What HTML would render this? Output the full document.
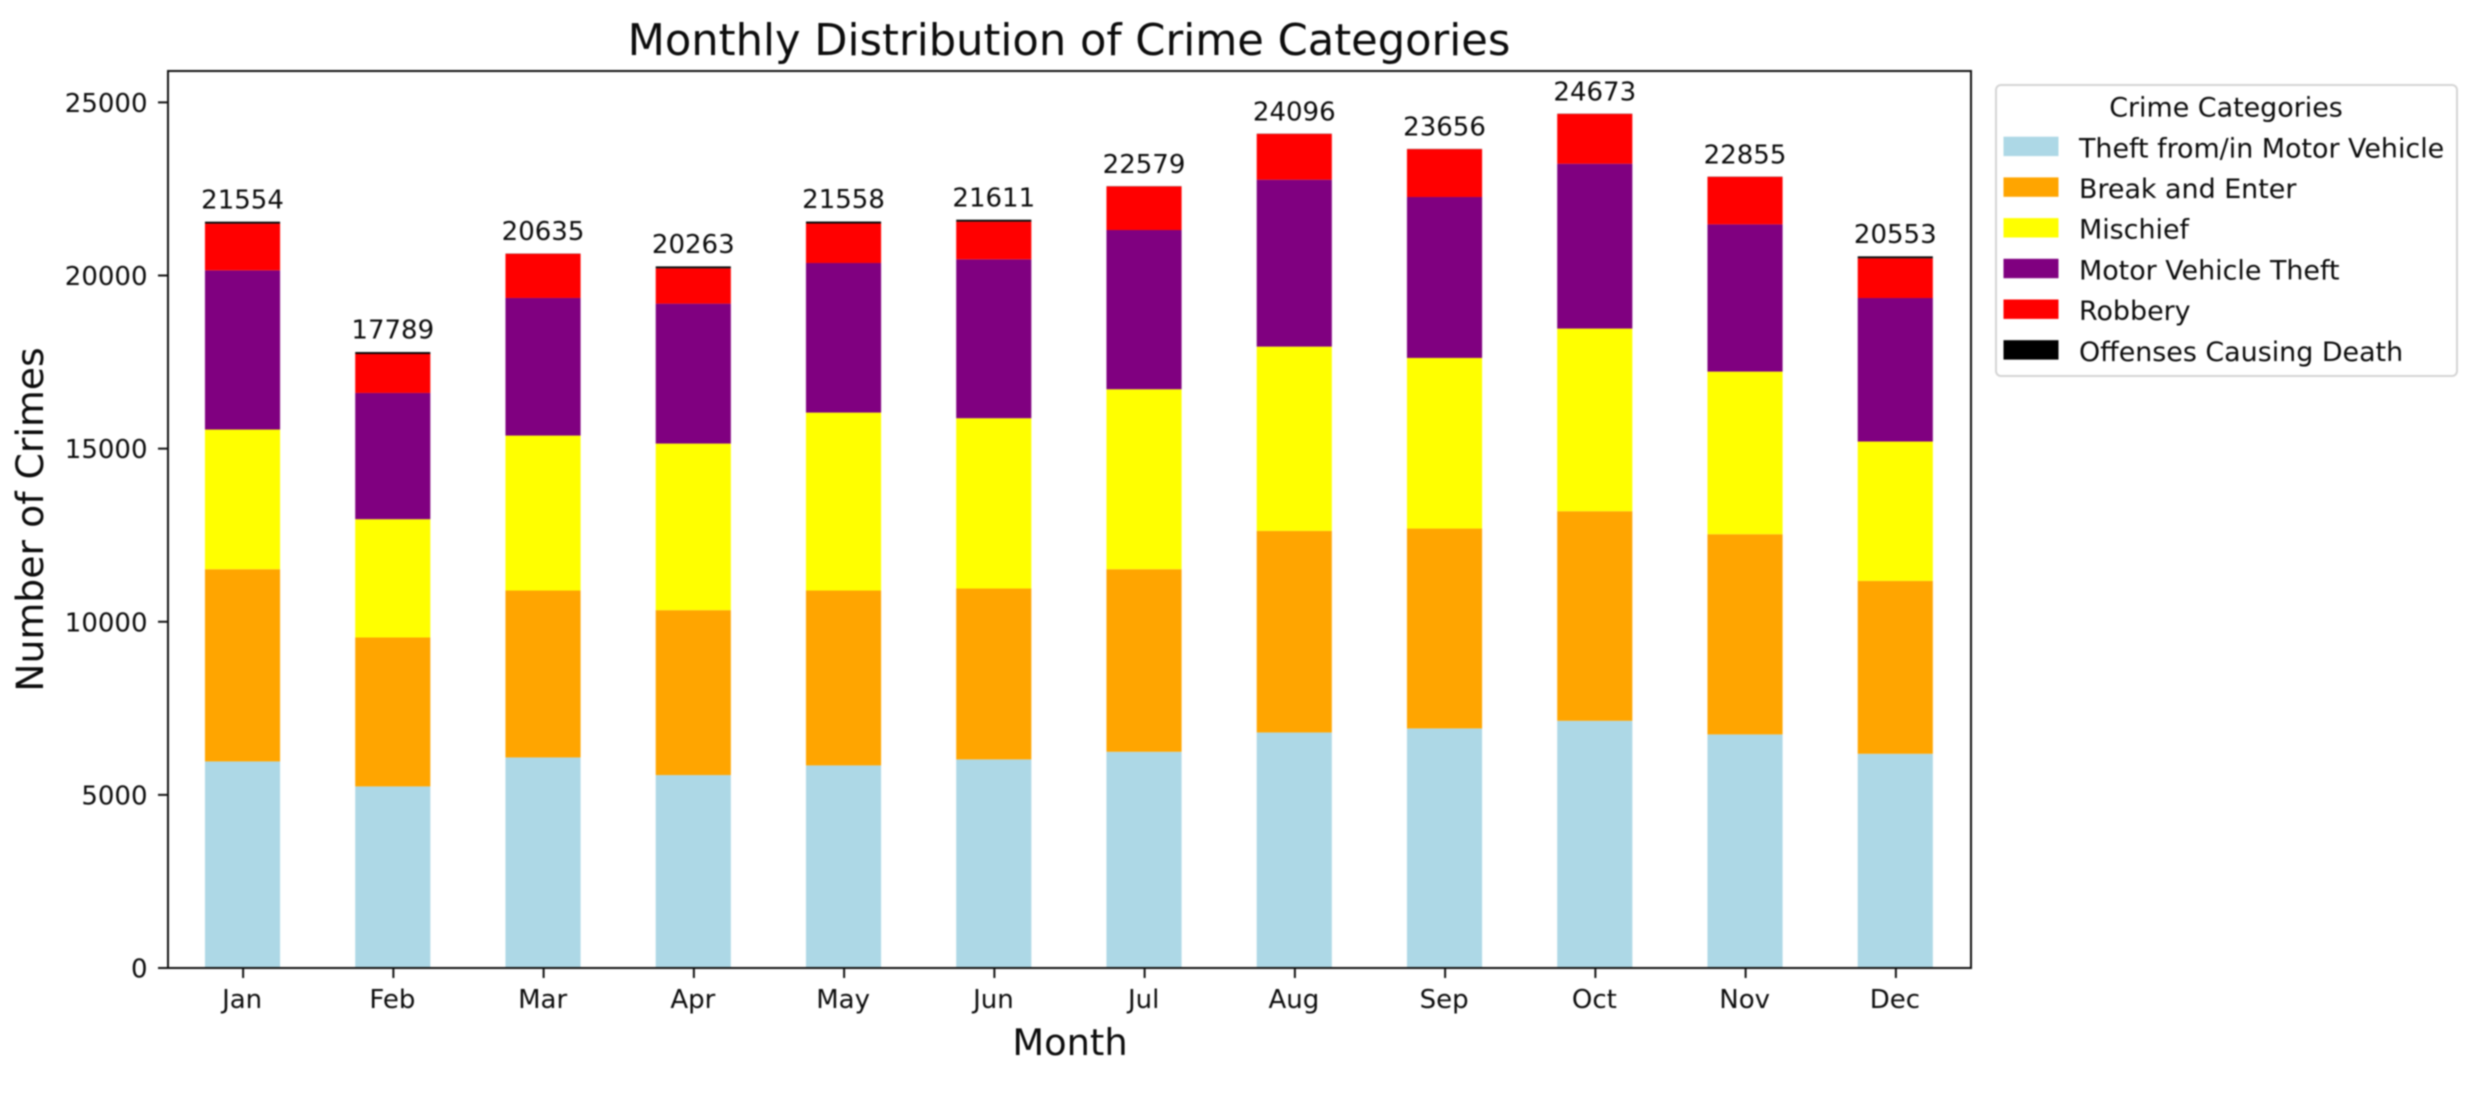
<!DOCTYPE html>
<html lang="en">
<head>
<meta charset="utf-8">
<title>Monthly Distribution of Crime Categories</title>
<style>
  html, body { margin: 0; padding: 0; background: #fff; }
  body { width: 2478px; height: 1096px; overflow: hidden; }
  #chart { display: block; filter: blur(0.8px); }
  text { font-family: "DejaVu Sans", "Liberation Sans", sans-serif; fill: #0c0c0c; }
</style>
</head>
<body>
<svg id="chart" xmlns="http://www.w3.org/2000/svg" width="2478" height="1096" viewBox="0 0 2478 1096">
  <rect x="-10" y="-10" width="2498" height="1116" fill="#fff"/>
  <g id="bars"></g>
  <g id="labels"></g>
  <rect x="168" y="71" width="1803" height="897" fill="none" stroke="#111" stroke-width="2"/>
  <g id="yticks"></g>
  <g id="xticks"></g>
  <text x="1069" y="55" font-size="43.2" text-anchor="middle">Monthly Distribution of Crime Categories</text>
  <text x="1070" y="1055" font-size="36.8" text-anchor="middle">Month</text>
  <text x="0" y="0" font-size="37.8" text-anchor="middle" transform="translate(43 519.5) rotate(-90)">Number of Crimes</text>
  <g id="legend">
    <rect x="1996" y="85" width="461" height="291" rx="5" ry="5" fill="#fff" stroke="#d4d4d4" stroke-width="2"/>
    <text x="2226" y="116.5" font-size="26.9" text-anchor="middle">Crime Categories</text>
  </g>
</svg>
<script>
const months = ["Jan","Feb","Mar","Apr","May","Jun","Jul","Aug","Sep","Oct","Nov","Dec"];
const seriesNames = ["Theft from/in Motor Vehicle","Break and Enter","Mischief","Motor Vehicle Theft","Robbery","Offenses Causing Death"];
const theftFromVehicle = [5966,5244,6081,5572,5851,6024,6245,6803,6919,7140,6746,6187];
const breakAndEnter = [5552,4302,4821,4763,5051,4936,5273,5822,5773,6053,5783,4994];
const mischief = [4033,3416,4475,4811,5139,4918,5197,5321,4927,5274,4696,4024];
const motorVehicleTheft = [4599,3647,3975,4042,4321,4590,4599,4822,4648,4762,4253,4145];
const robbery = [1349,1125,1278,1020,1141,1088,1260,1323,1384,1439,1372,1148];
const offensesCausingDeath = [55,55,5,55,55,55,5,5,5,5,5,55];
const yTickValues = [0,5000,10000,15000,20000,25000];

const seriesValues = [theftFromVehicle, breakAndEnter, mischief, motorVehicleTheft, robbery, offensesCausingDeath];
const seriesColors = ["#add8e6","#ffa500","#ffff00","#800080","#ff0000","#000000"];

const SVG_NS = "http://www.w3.org/2000/svg";
const plot = { left: 168, right: 1971, top: 71, bottom: 968 };
const totals = months.map(function (m, i) {
  return seriesValues.reduce(function (sum, s) { return sum + s[i]; }, 0);
});
const yMax = Math.max.apply(null, totals) * 1.05;
function xScale(v) { return plot.left + (v + 0.5) * (plot.right - plot.left) / months.length; }
function yScale(v) { return plot.bottom - v * (plot.bottom - plot.top) / yMax; }
function make(tag, attrs, text) {
  const node = document.createElementNS(SVG_NS, tag);
  Object.keys(attrs).forEach(function (k) { node.setAttribute(k, attrs[k]); });
  if (text !== undefined) node.textContent = text;
  return node;
}
function slug(s) { return s.toLowerCase().replace(/[^a-z0-9]+/g, "-"); }

const barsGroup = document.getElementById("bars");
const labelsGroup = document.getElementById("labels");
const barWidth = xScale(0.5) - xScale(0);
months.forEach(function (month, i) {
  let base = 0;
  seriesValues.forEach(function (series, s) {
    const y0 = yScale(base);
    const y1 = yScale(base + series[i]);
    const el = make("rect", { x: xScale(i) - barWidth / 2 - 0.6, y: y1, width: barWidth, height: y0 - y1, fill: seriesColors[s] });
    
    
    barsGroup.appendChild(el);
    base += series[i];
  });
  const label = make("text", { x: xScale(i) - 0.6, y: yScale(totals[i]) - 13.4, "font-size": 26, "text-anchor": "middle" }, String(totals[i]));
  
  
  labelsGroup.appendChild(label);
});

const yTicksGroup = document.getElementById("yticks");
yTickValues.forEach(function (v) {
  const tick = make("line", { x1: plot.left - 10, x2: plot.left, y1: yScale(v), y2: yScale(v), stroke: "#111", "stroke-width": 2 });
  
  
  yTicksGroup.appendChild(tick);
  const lab = make("text", { x: plot.left - 20.5, y: yScale(v) + 9.5, "font-size": 26, "text-anchor": "end" }, String(v));
  
  
  yTicksGroup.appendChild(lab);
});

const xTicksGroup = document.getElementById("xticks");
months.forEach(function (month, i) {
  const tick = make("line", { x1: xScale(i), x2: xScale(i), y1: plot.bottom, y2: plot.bottom + 10, stroke: "#111", "stroke-width": 2 });
  
  
  xTicksGroup.appendChild(tick);
  const lab = make("text", { x: xScale(i) - 1, y: 1008, "font-size": 26, "text-anchor": "middle" }, month);
  
  
  xTicksGroup.appendChild(lab);
});

const legendGroup = document.getElementById("legend");
seriesNames.forEach(function (name, s) {
  const swatch = make("rect", { x: 2003.5, y: 136.7 + s * 40.7, width: 55, height: 19.4, fill: seriesColors[s] });
  
  
  legendGroup.appendChild(swatch);
  const lab = make("text", { x: 2079, y: 157.3 + s * 40.7, "font-size": 26.9 }, name);
  
  
  legendGroup.appendChild(lab);
});
</script>
</body>
</html>
